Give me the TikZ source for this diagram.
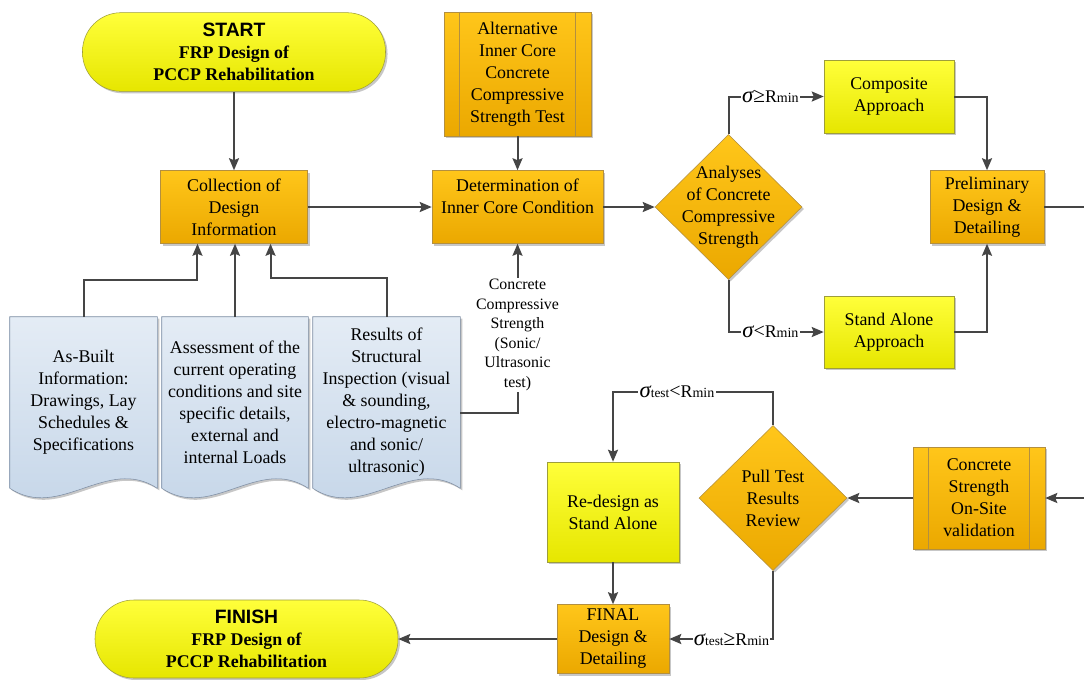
\documentclass[tikz,border=0pt]{standalone}
\usepackage{fontspec}
\setmainfont{Liberation Serif}
\newfontfamily\headfont{Liberation Sans}
\usetikzlibrary{arrows.meta, shapes.geometric, shadows, backgrounds}

\definecolor{ambtop}{HTML}{FFC61A}
\definecolor{ambbot}{HTML}{EBA800}
\definecolor{ambedge}{HTML}{B38F3F}
\definecolor{yetop}{HTML}{FFFF3A}
\definecolor{yebot}{HTML}{E6E600}
\definecolor{yeedge}{HTML}{9E9E3A}
\definecolor{doctop}{HTML}{E4ECF5}
\definecolor{docbot}{HTML}{C4D5E8}
\definecolor{docedge}{HTML}{7D8DA3}
\definecolor{wiregray}{HTML}{454545}

\newcommand\sig{{\fontsize{17}{17}\selectfont\itshape σ}}
\newcommand\rmin{R{\fontsize{10.5}{10.5}\selectfont min}}
\newcommand\tst{{\fontsize{10}{10}\selectfont test}}

\begin{document}
\begin{tikzpicture}[x=0.75pt, y=-0.75pt,
  font=\fontsize{13.4}{16.5}\selectfont,
  every node/.style={align=center, inner sep=1pt},
  boxshadow/.style={drop shadow={shadow xshift=1.5pt, shadow yshift=-1.5pt, fill=black, opacity=0.22}},
  ambox/.style={boxshadow, draw=ambedge, top color=ambtop, bottom color=ambbot},
  yebox/.style={boxshadow, draw=yeedge, top color=yetop, bottom color=yebot},
  terminal/.style={yebox, rounded corners=29pt, minimum width=227.25pt, minimum height=59pt,
    font=\fontsize{13.4}{16.5}\selectfont\bfseries},
  decision/.style={ambox, diamond, minimum width=110.25pt, minimum height=108.75pt, inner sep=0pt},
  docpaper/.style={boxshadow, draw=docedge, top color=doctop, bottom color=docbot},
  wire/.style={draw=wiregray, line width=1.5pt},
  conn/.style={wire, -{Stealth[length=9pt, width=7.5pt, inset=1.5pt]}},
  cond/.style={fill=white, inner sep=1pt}]
\useasboundingbox (0,0) rectangle (1084,679);

\node[terminal] (start) at (234,52) {{\headfont\fontsize{14.5}{16.5}\selectfont START}\\FRP Design of\\PCCP Rehabilitation};
\node[ambox, minimum width=110.25pt, minimum height=54.75pt] (collect) at (234,207)
  {Collection of\\Design\\Information};
\node[ambox, minimum width=110.25pt, minimum height=93pt] (alt) at (517.5,74)
  {Alternative\\Inner Core\\Concrete\\Compressive\\Strength Test};
\node[ambox, minimum width=128.25pt, minimum height=54.75pt] (determ) at (517.5,207)
  {Determination of\\Inner Core Condition\\~};
\node[decision, label=center:{Analyses\\of Concrete\\Compressive\\Strength}] (analyse) at (728.5,207) {};
\node[yebox, minimum width=97.5pt, minimum height=54.75pt] (composite) at (889,96.5) {Composite\\Approach};
\node[yebox, minimum width=97.5pt, minimum height=54pt] (standalone) at (889,332) {Stand Alone\\Approach};
\node[ambox, minimum width=85.5pt, minimum height=54.75pt] (prelim) at (987,207) {Preliminary\\Design \&\\Detailing};
\coordinate (rimtop) at (1084,207);

\node[minimum width=110.25pt, minimum height=128.25pt] (doc1) at (83.5,402.5)
  {As-Built\\Information:\\Drawings, Lay\\Schedules \&\\Specifications};
\node[minimum width=109.5pt, minimum height=128.25pt] (doc2) at (235,402.5)
  {Assessment of the\\current operating\\conditions and site\\specific details,\\external and\\internal Loads};
\node[minimum width=110.25pt, minimum height=128.25pt] (doc3) at (386.5,402.5)
  {Results of\\Structural\\Inspection (visual\\\& sounding,\\electro-magnetic\\and sonic/\\ultrasonic)};

\node[ambox, minimum width=99pt, minimum height=76.5pt] (strength) at (979,498)
  {Concrete\\Strength\\On-Site\\validation};
\coordinate (rimbot) at (1084,498);
\node[decision, minimum width=111pt, label=center:{Pull Test\\Results\\Review}] (pull) at (773,498) {};
\node[yebox, minimum width=99pt, minimum height=75pt] (redesign) at (613,512) {Re-design as\\Stand Alone};
\node[ambox, minimum width=84pt, minimum height=51.75pt] (final) at (613,639) {FINAL\\Design \&\\Detailing};
\node[terminal, minimum height=58.5pt] (finish) at (246.5,639) {{\headfont\fontsize{14.5}{16.5}\selectfont FINISH}\\FRP Design of\\PCCP Rehabilitation};

\foreach \b in {alt, strength}
  \draw[ambedge] ([xshift=12pt]\b.north west) -- ([xshift=12pt]\b.south west)
    ([xshift=-12pt]\b.north east) -- ([xshift=-12pt]\b.south east);

\draw[conn] (start) -- (collect);
\draw[conn] (alt) -- (determ);
\draw[conn] (collect) -- (determ);
\draw[conn] (determ) -- (analyse);
\draw[conn] (analyse.north) |- node[cond, pos=0.72] {\sig{\fontsize{16}{16}\selectfont≥}\rmin} (composite.west);
\draw[conn] (analyse.south) |- node[cond, pos=0.72] {\sig{\fontsize{15}{15}\selectfont<}\rmin} (standalone.west);
\draw[conn] (composite.east) -| (prelim.north);
\draw[conn] (standalone.east) -| (prelim.south);
\draw[wire] (prelim.east) -- (rimtop);

\draw[conn] (doc1.north) -- ++(0,-37) -| ([xshift=-27.4pt]collect.south);
\draw[conn] (doc2.north) -- (doc2.north |- collect.south);
\draw[conn] (doc3.north) -- ++(0,-39) -| ([xshift=27.4pt]collect.south);
\draw[conn] ([yshift=-7.5pt]doc3.east) -| node[cond, pos=0.73, font=\fontsize{11.9}{14.65}\selectfont]
  {Concrete\\Compressive\\Strength\\(Sonic/\\Ultrasonic\\test)} (determ.south);

\draw[conn] (rimbot) -- (strength);
\draw[conn] (strength) -- (pull);
\draw[conn] (pull.north) -- ++(0,-33) -| node[cond, pos=0.3] {\sig\tst{\fontsize{15}{15}\selectfont<}\rmin} (redesign.north);
\draw[conn] (redesign) -- (final);
\draw[conn] (pull.south) |- node[cond, pos=0.7] {\sig\tst{\fontsize{16}{16}\selectfont≥}\rmin} (final.east);
\draw[conn] (final) -- (finish);

\begin{scope}[on background layer]
\fill[white] (0,0) rectangle (1084,679);
\foreach \d in {doc1, doc2, doc3}
  \path[docpaper] (\d.north west) -- (\d.north east) -- (\d.south east)
    .. controls +(-50,-33) and +(50,33) .. (\d.south west) -- cycle;
\end{scope}
\end{tikzpicture}
\end{document}
